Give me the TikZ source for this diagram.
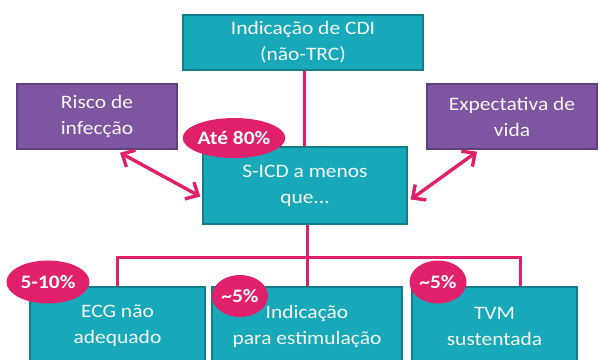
\documentclass[tikz,border=0pt]{standalone}
\usepackage{fontspec}
\setmainfont{Carlito}[FakeStretch=1.13]
\usetikzlibrary{arrows.meta,shapes.geometric,calc}
\definecolor{teal1}{RGB}{23,169,185}
\definecolor{tealb}{RGB}{18,124,138}
\definecolor{purp}{RGB}{125,85,160}
\definecolor{purpb}{RGB}{94,63,128}
\definecolor{pink1}{RGB}{224,32,106}
\begin{document}
\begin{tikzpicture}[x=1pt,y=-1pt,
  txt/.style={text=white!94!gray, align=center, font=\fontsize{19}{26}\selectfont, inner sep=0pt},
  box/.style={txt, draw=tealb, fill=teal1, line width=1.3pt},
  pbox/.style={txt, draw=purpb, fill=purp, line width=1.3pt},
  ell/.style={ellipse, fill=pink1, text=white, inner sep=0pt, font=\fontsize{19}{22}\selectfont\bfseries},
  link/.style={draw=pink1, line width=3pt},
  arr/.style={draw=pink1, line width=3.4pt, {Straight Barb[length=10pt,width=19pt]}-{Straight Barb[length=10pt,width=19pt]}}
]
\useasboundingbox (0,0) rectangle (599,359);
\clip (0,0) rectangle (599,359);
% boxes
\node[box, minimum width=240, minimum height=55] (top) at (303,42.5) {Indicação de CDI\\(não-TRC)};
\node[pbox, minimum width=160, minimum height=65] (risk) at (97,116.5) {Risco de\\infecção};
\node[pbox, minimum width=170, minimum height=65] (life) at (512,116.5) {Expectativa de\\vida};
\node[box, minimum width=204, minimum height=77] (sicd) at (305,185.5) {S-ICD a menos\\que...};
\node[box, minimum width=175, minimum height=78] (ecg) at (117.5,326) {ECG não\\adequado};
\node[box, minimum width=190, minimum height=78] (stim) at (307,326) {Indicação\\para estimulação};
\node[box, minimum width=165, minimum height=78] (tvm) at (494.5,326) {TVM\\sustentada};
% connectors
\draw[link] (top.south -| 304,0) -- (sicd.north -| 304,0);
\coordinate (hl) at (117,257);
\coordinate (hr) at (520,257);
\draw[link] (sicd.south -| stim.north) -- (stim.north);
\draw[link] (ecg.north -| hl) -- (hl) -- (hr) -- (tvm.north -| hr);
\draw[arr] ($(risk.south)+(23,3)$) -- ($(sicd.west)+(-2,11)$);
\draw[arr] ($(sicd.east)+(3,14)$) -- ($(life.south)+(-35,2)$);
% badges
\node[ell, minimum width=95, minimum height=40] (b80) at (234,138) {Até 80\%};
\node[ell, minimum width=83, minimum height=43] (b510) at (48,282) {5-10\%};
\node[ell, minimum width=56, minimum height=42] (b5a) at (240,296) {\textasciitilde5\%};
\node[ell, minimum width=57, minimum height=43] (b5b) at (438,282) {\textasciitilde5\%};
\end{tikzpicture}
\end{document}
